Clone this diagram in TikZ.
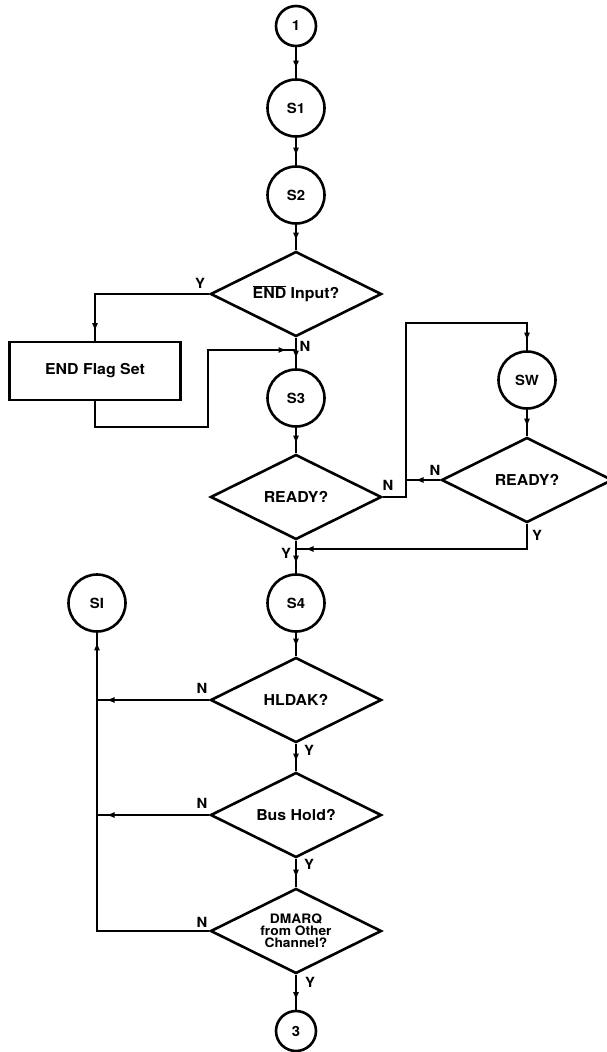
\documentclass[tikz,border=0pt]{standalone}
\usepackage{fontspec}
\setmainfont[FakeStretch=1.06]{TeX Gyre Heros}
\usetikzlibrary{shapes.geometric,arrows.meta,decorations.markings}

\tikzset{
  stnode/.style={draw,circle,line width=2.6pt,minimum size=57pt,inner sep=0pt,
    font=\fontsize{14}{14}\selectfont\bfseries},
  conn/.style={stnode,minimum size=40pt},
  decision/.style={draw,diamond,aspect=2,line width=2.6pt,minimum width=171pt,minimum height=85pt,
    inner sep=0pt,align=center,font=\fontsize{15}{15}\selectfont\bfseries},
  process/.style={draw,rectangle,line width=2.6pt,minimum width=171pt,minimum height=58pt,
    font=\fontsize{15}{15}\selectfont\bfseries},
  flowline/.style={line width=2pt,postaction={decorate},
    decoration={markings,mark=at position -9pt with {\arrow{Latex[length=8.5pt,width=6pt]}}}},
  lbl/.style={font=\fontsize{14}{14}\selectfont\bfseries,inner sep=0pt}
}

\begin{document}
\begin{tikzpicture}[x=1pt,y=-1pt]
    \useasboundingbox (0,0) rectangle (606,1052);

    % main column
    \node[conn] (c1) at (296,26) {1};
    \node[stnode] (s1) at (296,108) {S1};
    \node[stnode] (s2) at (296,195) {S2};
    \node[decision] (endin) at (296,294) {$\overline{\mbox{END}}$ Input?};
    \node[stnode] (s3) at (296,398) {S3};
    \node[decision] (ready1) at (296,497) {READY?};
    \node[stnode] (s4) at (296,603) {S4};
    \node[decision] (hldak) at (296,700) {HLDAK?};
    \node[decision] (bushold) at (296,815) {Bus Hold?};
    \node[decision,font=\fontsize{13}{12}\selectfont\bfseries] (dmarq) at (296,931) {DMARQ\\from Other\\Channel?};
    \node[conn] (c3) at (296,1031) {3};

    % side blocks
    \node[process] (flag) at (95,371) {END Flag Set};
    \node[stnode] (sw) at (527,380) {SW};
    \node[decision] (ready2) at (527,480) {READY?};
    \node[stnode] (si) at (97,603) {SI};

    \coordinate (jr) at (296,350);
    \coordinate (rt) at (208,427);
    \coordinate (lpA) at (406,323);
    \coordinate (jn) at (406,480);
    \coordinate (jy) at (296,549);
    \coordinate (jh) at (97,700);
    \coordinate (jb) at (97,815);

    \draw[flowline] (c1) -- (s1);
    \draw[flowline] (s1) -- (s2);
    \draw[flowline] (s2) -- (endin);
    \draw[flowline] (endin) -- (s3);
    \draw[flowline] (s3) -- (ready1);
    \draw[flowline] (ready1) -- (s4);
    \draw[flowline] (s4) -- (hldak);
    \draw[flowline] (hldak) -- (bushold);
    \draw[flowline] (bushold) -- (dmarq);
    \draw[flowline] (dmarq) -- (c3);

    \draw[flowline] (endin.west) -| (flag.north);
    \draw[flowline] (flag.south) |- (rt) |- (jr);
    \draw[flowline] (ready1.east) -| (lpA) -| (sw.north);
    \draw[flowline] (sw) -- (ready2);
    \draw[flowline] (ready2.west) -- (jn);
    \draw[flowline] (ready2.south) |- (jy);
    \draw[flowline] (hldak.west) -- (jh);
    \draw[flowline] (bushold.west) -- (jb);
    \draw[flowline] (dmarq.west) -| (si.south);

    % Y / N labels
    \node[lbl] (yend) at (200,283) {Y};
    \node[lbl] (nend) at (305,346) {N};
    \node[lbl] (nrdy1) at (388,485) {N};
    \node[lbl] (yrdy1) at (286,553) {Y};
    \node[lbl] (nrdy2) at (435,470) {N};
    \node[lbl] (yrdy2) at (537,535) {Y};
    \node[lbl] (nhld) at (202,688) {N};
    \node[lbl] (yhld) at (309,750) {Y};
    \node[lbl] (nbus) at (202,803) {N};
    \node[lbl] (ybus) at (309,864) {Y};
    \node[lbl] (ndma) at (202,922) {N};
    \node[lbl] (ydma) at (310,982) {Y};
\end{tikzpicture}
\end{document}
